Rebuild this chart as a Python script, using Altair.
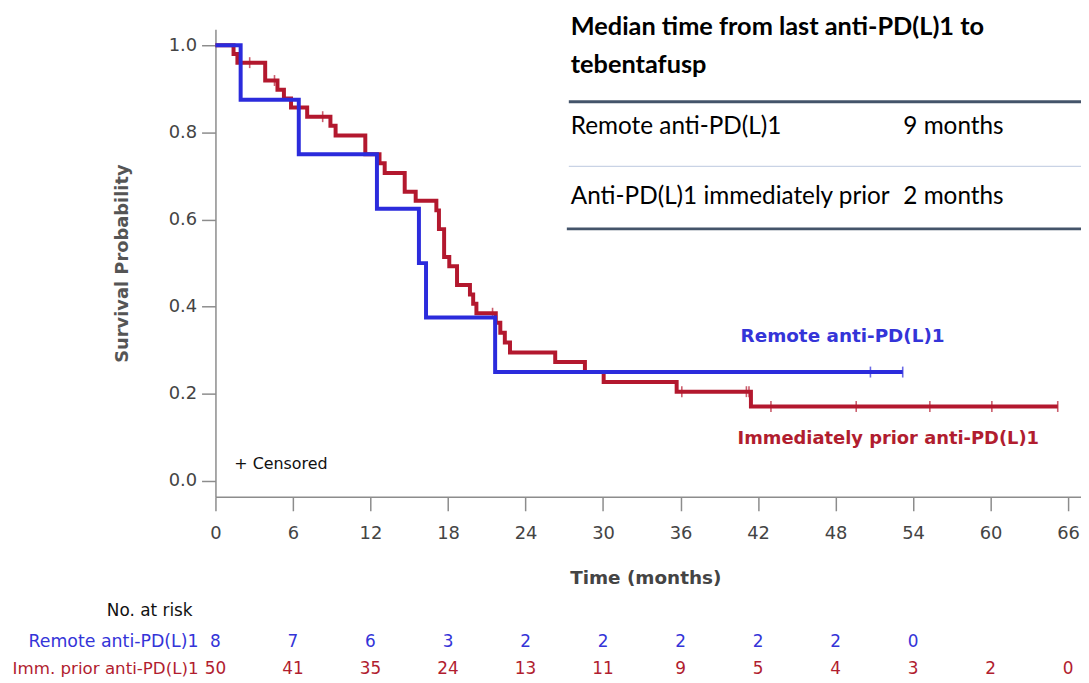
import altair as alt
import pandas as pd

BLUE = "#2B2BDC"
RED = "#B3182E"
BLUE_TXT = "#3434D8"
RED_TXT = "#B11D2F"
AXIS_GREY = "#8c8c8c"
KM_FONT = "DejaVu Sans"
TABLE_FONT = "Lato"

# ---- Kaplan-Meier curves ----
remote_time = [0, 1.95, 6.45, 12.5, 15.75, 16.3, 21.65, 53.2]
remote_surv = [1.0, 0.875, 0.75, 0.625, 0.5, 0.375, 0.25, 0.25]
remote_cens_time = [50.7, 53.2]
remote_cens_surv = [0.25, 0.25]

imm_time = [0, 1.4, 1.7, 3.85, 4.8, 5.3, 5.85, 7.1, 8.9, 9.3, 11.6, 12.7, 13.1,
            14.65, 15.5, 17.1, 17.3, 17.7, 18.1, 18.7, 19.7, 19.95, 20.2, 21.7,
            22.05, 22.4, 22.8, 26.3, 28.6, 30.05, 35.7, 41.45, 65.2]
imm_surv = [1.0, 0.98, 0.96, 0.919, 0.898, 0.878, 0.857, 0.836, 0.815, 0.793,
            0.750, 0.729, 0.707, 0.664, 0.643, 0.621, 0.578, 0.514, 0.493,
            0.450, 0.428, 0.407, 0.385, 0.363, 0.340, 0.318, 0.295, 0.273,
            0.250, 0.227, 0.205, 0.171, 0.171]
imm_cens_time = [2.65, 4.57, 8.3, 21.45, 36.1, 41.1, 41.3, 43.0, 49.6, 55.3, 60.1, 65.2]
imm_cens_surv = [0.96, 0.919, 0.836, 0.385, 0.205, 0.205, 0.205, 0.171, 0.171,
                 0.171, 0.171, 0.171]

# ---- Numbers at risk ----
remote_risk_time = [0, 6, 12, 18, 24, 30, 36, 42, 48, 54]
remote_risk = [8, 7, 6, 3, 2, 2, 2, 2, 2, 0]
imm_risk_time = [0, 6, 12, 18, 24, 30, 36, 42, 48, 54, 60, 66]
imm_risk = [50, 41, 35, 24, 13, 11, 9, 5, 4, 3, 2, 0]

x_ticks = [0, 6, 12, 18, 24, 30, 36, 42, 48, 54, 60, 66]
y_ticks = [0.0, 0.2, 0.4, 0.6, 0.8, 1.0]

# ---- Table (top right) ----
table_title_1 = "Median time from last anti-PD(L)1 to"
table_title_2 = "tebentafusp"
table_rows = ["Remote anti-PD(L)1", "Anti-PD(L)1 immediately prior"]
table_vals = ["9 months", "2 months"]

W, H = 872, 471

x_scale = alt.Scale(domain=[0, 67.0], nice=False, zero=False)
y_scale = alt.Scale(domain=[-0.0364, 1.0364], nice=False, zero=False)

x_axis = alt.Axis(values=x_ticks, grid=False, labelFont=KM_FONT, labelFontSize=18,
                  labelColor="#444444", labelPadding=14, labelFlush=False,
                  tickSize=14, tickColor=AXIS_GREY, tickWidth=1.5,
                  domainColor=AXIS_GREY, domainWidth=1.5,
                  title="Time (months)", titleFont=KM_FONT, titleFontSize=18.5,
                  titleFontWeight="bold", titleColor="#444444",
                  titleX=433, titleY=81, titleBaseline="middle", titleAlign="center")
y_axis = alt.Axis(values=y_ticks, format=".1f", grid=False, labelFont=KM_FONT,
                  labelFontSize=18, labelColor="#444444", labelPadding=5,
                  labelFlush=False, tickSize=14, tickColor=AXIS_GREY, tickWidth=1.5,
                  domainColor=AXIS_GREY, domainWidth=1.5,
                  title="Survival Probability", titleFont=KM_FONT, titleFontSize=18,
                  titleFontWeight="bold", titleColor="#555555", titleAngle=270,
                  titleX=-94, titleY=235.5, titleBaseline="middle", titleAlign="center")

X = alt.X("t:Q", scale=x_scale, axis=x_axis)
Y = alt.Y("s:Q", scale=y_scale, axis=y_axis)

red_df = pd.DataFrame({"t": imm_time, "s": imm_surv})
blue_df = pd.DataFrame({"t": remote_time, "s": remote_surv})
red_c = pd.DataFrame({"t": imm_cens_time, "s": imm_cens_surv})
blue_c = pd.DataFrame({"t": remote_cens_time, "s": remote_cens_surv})

red_line = alt.Chart(red_df).mark_line(interpolate="step-after", color=RED,
                                       strokeWidth=4).encode(x=X, y=Y)
red_ticks = alt.Chart(red_c).mark_tick(orient="vertical", color=RED, size=11,
                                       thickness=1.6).encode(x=X, y=Y)
blue_line = alt.Chart(blue_df).mark_line(interpolate="step-after", color=BLUE,
                                         strokeWidth=4).encode(x=X, y=Y)
blue_ticks = alt.Chart(blue_c).mark_tick(orient="vertical", color=BLUE, size=11,
                                         thickness=1.6).encode(x=X, y=Y)


def label(txt, x, y, **kw):
    return alt.Chart(pd.DataFrame({"lab": [txt]})).mark_text(**kw).encode(
        text="lab:N", x=alt.value(x), y=alt.value(y))


def hrule(x1, x2, y, color, width):
    return alt.Chart(pd.DataFrame({"k": [0]})).mark_rule(
        color=color, strokeWidth=width).encode(
        x=alt.value(x1), x2=alt.value(x2), y=alt.value(y))


annotations = [
    label("Remote anti-PD(L)1", 529, 309, font=KM_FONT, fontSize=18.5,
          fontWeight="bold", color=BLUE_TXT, align="left", baseline="middle"),
    label("Immediately prior anti-PD(L)1", 526, 413, font=KM_FONT, fontSize=18,
          fontWeight="bold", color=RED_TXT, align="left", baseline="middle"),
    label("+ Censored", 19, 438, font=KM_FONT, fontSize=16, color="#111111",
          align="left", baseline="middle"),
    label("No. at risk", -23, 586, font=KM_FONT, fontSize=17, color="#111111",
          align="right", baseline="middle"),
    label("Remote anti-PD(L)1", -17, 617, font=KM_FONT, fontSize=17.5,
          color=BLUE_TXT, align="right", baseline="middle"),
    label("Imm. prior anti-PD(L)1", -17, 644, font=KM_FONT, fontSize=16.8,
          color=RED_TXT, align="right", baseline="middle"),
    # table
    label(table_title_1, 358, -2, font=TABLE_FONT, fontSize=25.5, fontWeight="bold",
          color="#000000", align="left", baseline="middle"),
    label(table_title_2, 358, 35.5, font=TABLE_FONT, fontSize=25.5, fontWeight="bold",
          color="#000000", align="left", baseline="middle"),
    hrule(356, 872, 73, "#44546A", 3),
    label(table_rows[0], 358, 98, font=TABLE_FONT, fontSize=24.5, color="#000000",
          align="left", baseline="middle"),
    label(table_vals[0], 693, 98, font=TABLE_FONT, fontSize=24.5, color="#000000",
          align="left", baseline="middle"),
    hrule(356, 872, 138, "#C9D3E5", 1.2),
    label(table_rows[1], 358, 169, font=TABLE_FONT, fontSize=24.5, color="#000000",
          align="left", baseline="middle"),
    label(table_vals[1], 693, 169, font=TABLE_FONT, fontSize=24.5, color="#000000",
          align="left", baseline="middle"),
    hrule(354, 872, 201, "#44546A", 3),
]

remote_risk_df = pd.DataFrame({"t": remote_risk_time, "n": remote_risk})
imm_risk_df = pd.DataFrame({"t": imm_risk_time, "n": imm_risk})

remote_risk_txt = alt.Chart(remote_risk_df).mark_text(
    font=KM_FONT, fontSize=17, color=BLUE_TXT, baseline="middle").encode(
    x=X, y=alt.value(617), text="n:Q")
imm_risk_txt = alt.Chart(imm_risk_df).mark_text(
    font=KM_FONT, fontSize=17, color=RED_TXT, baseline="middle").encode(
    x=X, y=alt.value(644), text="n:Q")

chart = alt.layer(
    red_line, red_ticks, blue_line, blue_ticks, remote_risk_txt, imm_risk_txt,
    *annotations
).properties(
    width=W, height=H,
    autosize=alt.AutoSizeParams(type="none"),
    padding={"left": 209, "top": 19, "right": 0, "bottom": 185},
    background="white",
).configure_view(stroke=None)

chart.save("out.html", embed_options={"renderer": "svg", "actions": False})
